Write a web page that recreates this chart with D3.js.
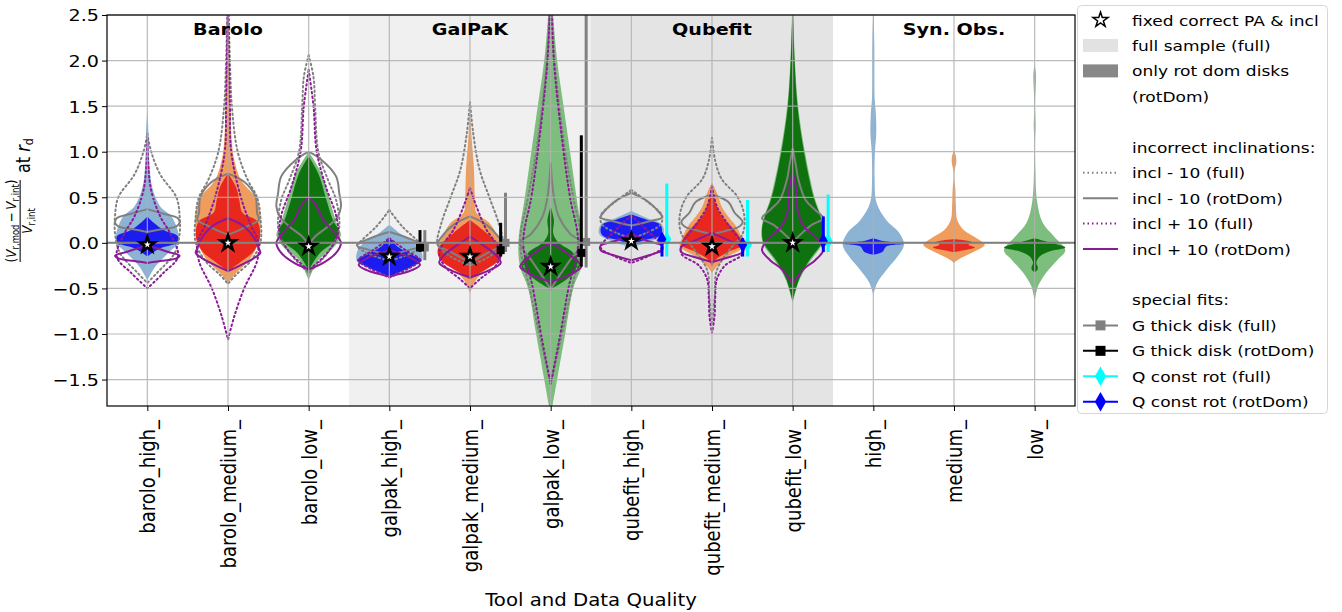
<!DOCTYPE html>
<html lang="en">
<head>
<meta charset="UTF-8">
<title>Violin comparison</title>
<script src="https://cdn.jsdelivr.net/npm/d3@7"></script>
<style>
    body { margin: 0; background: #fff; }
    text { font-family: "DejaVu Sans", sans-serif; fill: #000; }
</style>
</head>
<body>
<svg id="chart" width="1342" height="612"></svg>
<script>
// categories on the x axis
var categories = ["barolo_high_", "barolo_medium_", "barolo_low_",
    "galpak_high_", "galpak_medium_", "galpak_low_",
    "qubefit_high_", "qubefit_medium_", "qubefit_low_",
    "high_", "medium_", "low_"];
var groupNames = ["Barolo", "GalPaK", "Qubefit", "Syn. Obs."];
var yTicks = [-1.5, -1.0, -0.5, 0.0, 0.5, 1.0, 1.5, 2.0, 2.5];

// violin outlines: [value, relative half width]
var fullSample = [
    [[1.46,0],[1.2,0.04],[0.9,0.06],[0.61,0.15],[0.4,0.4],[0.29,0.75],[0.11,0.96],[0,0.96],[-0.11,0.65],[-0.26,0.25],[-0.41,0]],
    [[2.7,0],[2.0,0.05],[1.5,0.08],[1.1,0.12],[0.9,0.2],[0.69,0.4],[0.5,0.85],[0.33,1.0],[0.11,1.0],[0,0.95],[-0.19,0.65],[-0.33,0.25],[-0.44,0]],
    [[1.0,0],[0.76,0.4],[0.47,0.65],[0.18,0.9],[0.09,1.0],[-0.04,0.8],[-0.19,0.3],[-0.41,0]],
    [[0.2,0],[0.1,0.35],[0.0,0.8],[-0.1,1.0],[-0.2,1.0],[-0.3,0.5],[-0.37,0]],
    [[1.55,0],[1.2,0.04],[0.83,0.12],[0.5,0.15],[0.33,0.2],[0.22,0.6],[0.07,0.85],[-0.08,1.0],[-0.22,0.7],[-0.4,0.2],[-0.55,0]],
    [[2.9,0],[2.48,0.08],[2.0,0.2],[1.5,0.4],[1.0,0.6],[0.5,0.8],[0,1.0],[-0.26,0.95],[-0.5,0.7],[-1.0,0.45],[-1.5,0.2],[-1.9,0]],
    [[0.35,0],[0.27,0.5],[0.2,0.95],[0.1,1.0],[0.03,0.7],[-0.05,0]],
    [[0.66,0],[0.55,0.15],[0.4,0.3],[0.29,0.5],[0.18,0.75],[0.03,0.95],[-0.04,1.0],[-0.15,0.5],[-0.26,0.15],[-0.33,0]],
    [[2.8,0],[2.0,0.07],[1.5,0.17],[1.0,0.38],[0.5,0.68],[0.2,0.95],[0,0.93],[-0.2,0.55],[-0.4,0.22],[-0.66,0]],
    [[2.6,0],[2.2,0.03],[1.6,0.04],[1.4,0.08],[1.2,0.09],[1.0,0.05],[0.7,0.04],[0.44,0.1],[0.25,0.4],[0.11,0.8],[-0.02,0.95],[-0.15,0.75],[-0.3,0.4],[-0.44,0.12],[-0.57,0]],
    [[1.02,0],[0.95,0.06],[0.88,0.07],[0.8,0.02],[0.7,0.01],[0.6,0.04],[0.4,0.06],[0.25,0.1],[0.14,0.3],[0.05,0.7],[-0.02,0.95],[-0.1,0.6],[-0.17,0.2],[-0.22,0]],
    [[1.96,0],[1.85,0.04],[1.7,0.03],[1.5,0.01],[1.3,0.03],[1.1,0.01],[0.8,0.02],[0.44,0.08],[0.22,0.25],[0.07,0.6],[-0.08,0.95],[-0.19,0.7],[-0.33,0.35],[-0.48,0.1],[-0.65,0]]
];
var rotDom = [
    [[0.29,0],[0.22,0.2],[0.14,0.5],[0.07,0.95],[0,0.9],[-0.06,0.4],[-0.15,0]],
    [[0.76,0],[0.61,0.25],[0.47,0.35],[0.33,0.45],[0.24,0.9],[0.11,1.0],[0,0.95],[-0.11,0.75],[-0.22,0.35],[-0.31,0]],
    [[0.95,0],[0.76,0.3],[0.47,0.55],[0.25,0.75],[0.11,0.95],[0,0.75],[-0.11,0.35],[-0.3,0]],
    [[0.07,0],[-0.04,0.25],[-0.13,0.7],[-0.19,1.0],[-0.26,0.7],[-0.33,0.25],[-0.37,0]],
    [[0.25,0],[0.11,0.5],[-0.08,1.0],[-0.19,0.9],[-0.33,0.3],[-0.4,0]],
    [[0.4,0],[0.25,0.1],[0.1,0.08],[0.0,0.25],[-0.11,0.7],[-0.26,0.9],[-0.4,0.5],[-0.51,0]],
    [[0.31,0],[0.25,0.5],[0.2,0.9],[0.12,0.95],[0.07,0.85],[0.03,0.4],[-0.03,0]],
    [[0.56,0],[0.4,0.15],[0.29,0.3],[0.18,0.6],[0.07,0.85],[-0.02,0.95],[-0.1,0.5],[-0.19,0.1],[-0.26,0]],
    [[2.7,0],[2.0,0.06],[1.5,0.15],[1.0,0.35],[0.5,0.65],[0.3,0.85],[0.15,0.95],[0.0,0.9],[-0.2,0.5],[-0.4,0.2],[-0.64,0]],
    [[0.05,0],[0.02,0.3],[-0.01,0.95],[-0.04,0.4],[-0.1,0.28],[-0.13,0]],
    [[0.04,0],[0.01,0.55],[-0.02,0.45],[-0.05,0.65],[-0.08,0.3],[-0.1,0]],
    [[0.05,0],[0.01,0.4],[-0.05,0.95],[-0.09,0.5],[-0.15,0.15],[-0.22,0.05],[-0.27,0.1],[-0.3,0.08],[-0.32,0]]
];
var inclMinusFull = [
    [[1.2,0],[1.0,0.12],[0.75,0.4],[0.5,0.9],[0.3,1.0],[0.1,1.0],[-0.11,0.85],[-0.33,0.3],[-0.44,0]],
    [[2.8,0],[2.0,0.06],[1.5,0.12],[1.0,0.3],[0.7,0.6],[0.5,0.9],[0.3,1.0],[0,1.0],[-0.2,0.7],[-0.35,0.25],[-0.45,0]],
    [[2.06,0],[1.82,0.15],[1.5,0.2],[1.0,0.3],[0.69,0.6],[0.47,0.85],[0.18,0.95],[0,0.8],[-0.19,0.4],[-0.33,0]],
    [[0.36,0],[0.18,0.4],[0.03,0.85],[-0.03,1.0],[-0.11,0.7],[-0.2,0]],
    [[1.55,0],[1.2,0.1],[0.8,0.3],[0.5,0.6],[0.2,0.9],[-0.02,1.0],[-0.15,0.6],[-0.25,0]],
    [[2.9,0],[2.0,0.12],[1.0,0.45],[0.5,0.7],[0,0.95],[-0.5,0.65],[-1.0,0.35],[-1.55,0]],
    [[0.58,0],[0.45,0.5],[0.3,0.95],[0.2,0.9],[0.1,0.4],[0.05,0]],
    [[1.16,0],[0.9,0.1],[0.7,0.3],[0.5,0.8],[0.3,1.0],[0.1,0.95],[-0.05,0.6],[-0.3,0.15],[-0.6,0.08],[-0.9,0]],
    null, null, null, null
];
var inclMinusRot = [
    [[0.37,0],[0.32,0.5],[0.27,0.95],[0.22,1.0],[0.18,0.9],[0.15,0.45],[0.12,0]],
    [[0.76,0],[0.67,0.5],[0.51,0.85],[0.33,0.9],[0.25,0.95],[0.2,0.7],[0.14,0.35],[0.09,0]],
    [[1.0,0],[0.91,0.4],[0.73,0.85],[0.54,0.95],[0.4,1.0],[0.29,0.9],[0.18,0.6],[0.07,0.2],[-0.02,0]],
    [[0.12,0],[0.07,0.45],[0.01,0.85],[-0.03,1.0],[-0.08,0.6],[-0.13,0]],
    [[0.29,0],[0.2,0.5],[0.08,0.85],[-0.02,1.0],[-0.1,0.6],[-0.22,0]],
    [[0.88,0],[0.5,0.1],[0.29,0.25],[0.1,0.6],[0,0.95],[-0.19,0.6],[-0.37,0.25],[-0.51,0]],
    [[0.55,0],[0.49,0.35],[0.43,0.6],[0.36,0.8],[0.28,0.95],[0.24,0.6],[0.19,0]],
    [[0.53,0],[0.45,0.5],[0.33,0.7],[0.23,0.95],[0.18,0.85],[0.13,0.4],[0.09,0]],
    [[1.04,0],[0.85,0.1],[0.69,0.18],[0.47,0.4],[0.36,0.7],[0.27,0.95],[0.2,0.6],[0.11,0.3],[0.01,0]],
    null, null, null
];
var inclPlusFull = [
    [[1.13,0],[0.61,0.1],[0.29,0.4],[0.11,0.7],[-0.15,0.95],[-0.33,0.5],[-0.5,0]],
    [[2.8,0],[1.5,0.06],[1.0,0.1],[0.5,0.4],[0.2,0.7],[0,0.95],[-0.2,0.9],[-0.5,0.5],[-0.8,0.2],[-1.06,0]],
    [[1.9,0],[1.5,0.15],[1.0,0.25],[0.6,0.55],[0.3,0.85],[0.1,0.9],[-0.1,0.6],[-0.3,0]],
    [[0.05,0],[-0.08,0.5],[-0.19,0.95],[-0.28,0.6],[-0.38,0]],
    [[0.6,0],[0.4,0.2],[0.15,0.5],[-0.1,0.95],[-0.25,0.8],[-0.4,0.3],[-0.5,0]],
    [[2.9,0],[2.0,0.1],[1.0,0.4],[0.5,0.6],[0,0.85],[-0.5,0.55],[-1.0,0.3],[-1.55,0]],
    [[0.3,0],[0.1,0.6],[-0.05,0.95],[-0.15,0.5],[-0.22,0]],
    [[0.62,0],[0.4,0.15],[0.2,0.5],[0,0.9],[-0.12,0.95],[-0.25,0.4],[-0.4,0.15],[-0.6,0.1],[-0.8,0.08],[-0.99,0]],
    null, null, null, null
];
var inclPlusRot = [
    [[-0.03,0],[-0.06,0.3],[-0.1,0.65],[-0.14,1.0],[-0.17,0.9],[-0.2,0.4],[-0.22,0]],
    [[0.27,0],[0.18,0.5],[0.03,0.85],[-0.06,0.95],[-0.11,1.0],[-0.19,0.7],[-0.26,0.3],[-0.31,0]],
    [[0.51,0],[0.4,0.25],[0.25,0.45],[0.11,0.8],[0,1.0],[-0.11,0.85],[-0.22,0.45],[-0.29,0]],
    [[-0.08,0],[-0.17,0.7],[-0.24,0.95],[-0.3,0.7],[-0.37,0]],
    [[0.07,0],[-0.05,0.5],[-0.15,0.85],[-0.22,0.95],[-0.3,0.6],[-0.38,0]],
    [[0.0,0],[-0.11,0.5],[-0.26,0.95],[-0.33,0.7],[-0.43,0]],
    [[0.1,0],[0.02,0.5],[-0.03,0.95],[-0.08,0.95],[-0.13,0.6],[-0.19,0]],
    [[0.11,0],[0.03,0.5],[-0.04,0.95],[-0.1,0.95],[-0.15,0.6],[-0.21,0]],
    [[0.77,0],[0.61,0.1],[0.36,0.15],[0.18,0.35],[0.03,0.8],[-0.08,0.95],[-0.19,0.7],[-0.3,0.3],[-0.45,0]],
    null, null, null
];
// fixed correct PA & incl
var starValues = [-0.02, 0.0, -0.04, -0.15, -0.15, -0.26, 0.02, -0.04, 0.0, null, null, null];

// special fits: [category, centre, low, high]
var thickFull = [[3, -0.05, -0.19, 0.14], [4, 0.0, -0.1, 0.55], [5, 0.01, -0.27, 3.0]];
var thickRot  = [[3, -0.05, -0.1, 0.14], [4, -0.08, -0.15, 0.22], [5, -0.11, -0.26, 1.18]];
var constFull = [[6, 0.04, -0.15, 0.65], [7, -0.02, -0.15, 0.47], [8, 0.02, -0.1, 0.53]];
var constRot  = [[6, 0.04, -0.15, 0.09], [7, -0.02, -0.15, 0.05], [8, 0.02, -0.1, 0.29]];

var lightColors = ["#8cb2d4", "#f09c5c", "#7dbd7d"];
var darkColors = ["#1c1cf0", "#e8281e", "#0e730e"];
var gray = "#808080", purple = "#8a1a96";
var SX = 1.16; // the picture is stretched sideways

var svg = d3.select("#chart");
var m = {left: 107, right: 1075, top: 15, bottom: 406};

var x = d3.scaleLinear().domain([-0.5, 11.5]).range([m.left, m.right]);
var y = d3.scaleLinear().domain([-1.79, 2.5]).range([m.bottom, m.top]);
var hw = 0.4;

svg.append("clipPath").attr("id", "clip")
    .append("rect").attr("x", m.left).attr("y", m.top)
    .attr("width", m.right - m.left).attr("height", m.bottom - m.top);

// shaded tool blocks
svg.append("rect").attr("x", x(2.5)).attr("y", m.top)
    .attr("width", x(5.5) - x(2.5)).attr("height", m.bottom - m.top).attr("fill", "#f0f0f0");
svg.append("rect").attr("x", x(5.5)).attr("y", m.top)
    .attr("width", x(8.5) - x(5.5)).attr("height", m.bottom - m.top).attr("fill", "#e4e4e4");

var plot = svg.append("g").attr("clip-path", "url(#clip)");

function violin(i) {
    return d3.area()
        .curve(d3.curveCatmullRom.alpha(0.5))
        .y(function(d) { return y(d[0]); })
        .x0(function(d) { return x(i - d[1] * hw); })
        .x1(function(d) { return x(i + d[1] * hw); });
}

categories.forEach(function(c, i) {
    var q = i % 3;
    plot.append("path").attr("d", violin(i)(fullSample[i])).attr("fill", lightColors[q]);
    plot.append("path").attr("d", violin(i)(rotDom[i])).attr("fill", darkColors[q]);
    var outlines = [
        [inclMinusFull[i], gray, "1.5,3"],
        [inclMinusRot[i], gray, null],
        [inclPlusFull[i], purple, "1.5,3"],
        [inclPlusRot[i], purple, null]
    ];
    outlines.forEach(function(o) {
        if (!o[0]) return;
        plot.append("path").attr("d", violin(i)(o[0]))
            .attr("fill", "none").attr("stroke", o[1]).attr("stroke-width", 2)
            .attr("stroke-dasharray", o[2]).attr("stroke-linecap", o[2] ? "round" : null);
    });
});

// grid on top, as in the picture
var grid = svg.append("g").attr("stroke", "#b0b0b0").attr("stroke-width", 1.2).attr("opacity", 0.85);
grid.selectAll("line.h").data(yTicks).enter().append("line")
    .attr("x1", m.left).attr("x2", m.right)
    .attr("y1", function(d) { return y(d); }).attr("y2", function(d) { return y(d); });
grid.selectAll("line.v").data(d3.range(categories.length)).enter().append("line")
    .attr("y1", m.top).attr("y2", m.bottom)
    .attr("x1", function(d) { return x(d); }).attr("x2", function(d) { return x(d); });

svg.append("line").attr("x1", m.left).attr("x2", m.right)
    .attr("y1", y(0)).attr("y2", y(0)).attr("stroke", gray).attr("stroke-width", 2);

// special fits
function errBars(data, off, color, shape, size) {
    var g = plot.append("g");
    g.selectAll("line").data(data).enter().append("line")
        .attr("x1", function(d) { return x(d[0] + off); })
        .attr("x2", function(d) { return x(d[0] + off); })
        .attr("y1", function(d) { return y(d[2]); })
        .attr("y2", function(d) { return y(d[3]); })
        .attr("stroke", color).attr("stroke-width", 3);
    g.selectAll("path").data(data).enter().append("path")
        .attr("d", d3.symbol(shape, size))
        .attr("transform", function(d) { return "translate(" + x(d[0] + off) + "," + y(d[1]) + ")"; })
        .attr("fill", color);
}
errBars(thickFull, 0.44, gray, d3.symbolSquare, 64);
errBars(thickRot, 0.38, "#000", d3.symbolSquare, 64);
errBars(constFull, 0.44, "#00ffff", d3.symbolDiamond, 70);
errBars(constRot, 0.38, "#0000ff", d3.symbolDiamond, 70);

// stars
svg.selectAll("path.star").data(starValues.map(function(v, i) { return [i, v]; })
        .filter(function(d) { return d[1] !== null; }))
    .enter().append("path")
    .attr("d", d3.symbol(d3.symbolStar, 70))
    .attr("transform", function(d) { return "translate(" + x(d[0]) + "," + y(d[1]) + ")"; })
    .attr("fill", "#fff").attr("stroke", "#000").attr("stroke-width", 2.6);

// axes
var yAxis = svg.append("g").attr("transform", "translate(" + m.left + ",0)")
    .call(d3.axisLeft(y).tickValues(yTicks).tickFormat(d3.format(".1f")).tickSize(5).tickPadding(0));
yAxis.select(".domain").remove();
yAxis.selectAll("text").attr("font-size", 16.5).attr("x", null).attr("dy", "0.36em")
    .attr("transform", "translate(-8,0) scale(" + SX + ",1)");

var xAxis = svg.append("g").attr("transform", "translate(0," + m.bottom + ")")
    .call(d3.axisBottom(x).tickValues(d3.range(categories.length))
        .tickFormat(function(i) { return categories[i]; }).tickSize(5));
xAxis.select(".domain").remove();
xAxis.selectAll("text").attr("font-size", 18).attr("text-anchor", "end")
    .attr("x", -14).attr("y", 0).attr("dy", "0.36em")
    .attr("transform", "scale(" + SX + ",1) rotate(-90)");

svg.append("rect").attr("x", m.left).attr("y", m.top)
    .attr("width", m.right - m.left).attr("height", m.bottom - m.top)
    .attr("fill", "none").attr("stroke", "#000").attr("stroke-width", 1.2);

// tool names
svg.selectAll("text.grp").data(groupNames).enter().append("text")
    .attr("text-anchor", "middle").attr("font-weight", "bold").attr("font-size", 16.5)
    .attr("transform", function(d, i) { return "translate(" + x(1 + 3 * i) + ",35) scale(" + SX + ",1)"; })
    .text(function(d) { return d; });

svg.append("text").attr("text-anchor", "middle").attr("font-size", 17)
    .attr("transform", "translate(" + x(5.5) + ",606) scale(" + SX + ",1)")
    .text("Tool and Data Quality");

// y label with a fraction
var yl = svg.append("g").attr("transform", "translate(30,196) scale(" + SX + ",1) rotate(-90)");
var num = yl.append("text").attr("x", -25).attr("y", -12).attr("text-anchor", "middle").attr("font-size", 12);
num.append("tspan").text("(");
num.append("tspan").attr("font-style", "italic").text("V");
num.append("tspan").attr("font-size", 8.5).attr("dy", 2.5).text("r,mod");
num.append("tspan").attr("dy", -2.5).text("\u2009\u2212\u2009");
num.append("tspan").attr("font-style", "italic").text("V");
num.append("tspan").attr("font-size", 8.5).attr("dy", 2.5).text("r,int");
num.append("tspan").attr("dy", -2.5).text(")");
yl.append("line").attr("x1", -66).attr("x2", 16).attr("y1", -8.5).attr("y2", -8.5)
    .attr("stroke", "#000").attr("stroke-width", 0.9);
var den = yl.append("text").attr("x", -25).attr("y", 1.5).attr("text-anchor", "middle").attr("font-size", 12);
den.append("tspan").attr("font-style", "italic").text("V");
den.append("tspan").attr("font-size", 8.5).attr("dy", 2.5).text("r,int");
var at = yl.append("text").attr("x", 23).attr("y", 0).attr("font-size", 16);
at.append("tspan").text("at ");
at.append("tspan").attr("font-style", "italic").text("r");
at.append("tspan").attr("font-size", 11).attr("dy", 3).text("d");

// legend
var legendLabels = ["fixed correct PA & incl", "full sample (full)", "only rot dom disks", "(rotDom)", "",
    "incorrect inclinations:", "incl - 10 (full)", "incl - 10 (rotDom)", "incl + 10 (full)", "incl + 10 (rotDom)", "",
    "special fits:", "G thick disk (full)", "G thick disk (rotDom)", "Q const rot (full)", "Q const rot (rotDom)"];
var lg = svg.append("g");
lg.append("rect").attr("x", 1077.5).attr("y", 5.5).attr("width", 250).attr("height", 408).attr("rx", 4)
    .attr("fill", "#fff").attr("stroke", "#d6d6d6");
var rowY = function(k) { return 20 + k * 25.45; };
var hx0 = 1083, hx1 = 1118, hxc = 1100.5;
lg.selectAll("text").data(legendLabels).enter().append("text")
    .attr("font-size", 14.7)
    .attr("transform", function(d, k) { return "translate(1132," + (rowY(k) + 5.5) + ") scale(" + SX + ",1)"; })
    .text(function(d) { return d; });
lg.append("path").attr("d", d3.symbol(d3.symbolStar, 70))
    .attr("transform", "translate(" + hxc + "," + rowY(0) + ")")
    .attr("fill", "#fff").attr("stroke", "#000").attr("stroke-width", 1.5);
lg.append("rect").attr("x", hx0).attr("y", rowY(1) - 6.5).attr("width", hx1 - hx0).attr("height", 13).attr("fill", "#e2e2e2");
lg.append("rect").attr("x", hx0).attr("y", rowY(2) - 6.5).attr("width", hx1 - hx0).attr("height", 13).attr("fill", "#888");
[[6, gray, "1.5,3"], [7, gray, null], [8, purple, "1.5,3"], [9, purple, null]].forEach(function(r) {
    lg.append("line").attr("x1", hx0).attr("x2", hx1).attr("y1", rowY(r[0])).attr("y2", rowY(r[0]))
        .attr("stroke", r[1]).attr("stroke-width", 2).attr("stroke-dasharray", r[2]);
});
[[12, gray, d3.symbolSquare], [13, "#000", d3.symbolSquare], [14, "#00ffff", d3.symbolDiamond], [15, "#0000ff", d3.symbolDiamond]].forEach(function(r) {
    lg.append("line").attr("x1", hx0).attr("x2", hx1).attr("y1", rowY(r[0])).attr("y2", rowY(r[0]))
        .attr("stroke", r[1]).attr("stroke-width", 2);
    lg.append("path").attr("d", d3.symbol(r[2], r[2] === d3.symbolSquare ? 100 : 110))
        .attr("transform", "translate(" + hxc + "," + rowY(r[0]) + ")").attr("fill", r[1]);
});
</script>
</body>
</html>
